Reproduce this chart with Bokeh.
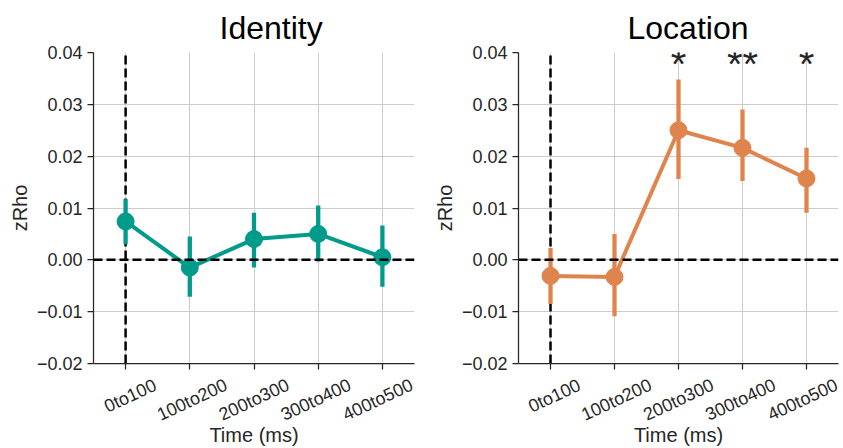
import math
from bokeh.plotting import figure
from bokeh.layouts import row, column
from bokeh.models import (Range1d, FactorRange, FixedTicker, CustomJSTickFormatter,
                          Span, Title)
from bokeh.core.properties import value
from bokeh.embed import file_html
from bokeh.resources import INLINE

categories = ["0to100", "100to200", "200to300", "300to400", "400to500"]
y_ticks = [-0.02, -0.01, 0.0, 0.01, 0.02, 0.03, 0.04]

identity_mean = [0.0074, -0.0015, 0.0040, 0.0050, 0.0005]
identity_low = [0.0030, -0.0071, -0.0015, -0.0003, -0.0052]
identity_high = [0.0117, 0.0045, 0.0091, 0.0105, 0.0066]

location_mean = [-0.0031, -0.0033, 0.0250, 0.0216, 0.0157]
location_low = [-0.0085, -0.0109, 0.0156, 0.0152, 0.0091]
location_high = [0.0023, 0.0050, 0.0348, 0.0290, 0.0216]

star_categories = ["200to300", "300to400", "400to500"]
star_labels = ["*", "**", "*"]
star_level = 0.0377

FONT = "Liberation Sans"
INK = "#262626"
FRAME_TOP = 52
FRAME_BOTTOM = 363
TOP_H = 374                 # main plot (x ticks below the frame)
BOT_H = 448 - TOP_H         # strip with rotated category names + x-axis title
STRIP_FRAME_H = 48
LABEL_PX = 18
LABEL_ANGLE = math.radians(25)

# approximate advance widths (em) of Liberation Sans, used to top-align rotated labels
EM_W = {"t": 0.278}


def label_centre(text):
    w = LABEL_PX * sum(EM_W.get(ch, 0.556) for ch in text)
    h = LABEL_PX * 1.17
    half = (w * math.sin(LABEL_ANGLE) + h * math.cos(LABEL_ANGLE)) / 2
    return STRIP_FRAME_H - 1 - half


def style_axis(ax):
    ax.axis_line_color = INK
    ax.axis_line_width = 1.25
    ax.major_tick_line_color = INK
    ax.major_tick_line_width = 1.25
    ax.major_tick_out = 6
    ax.major_tick_in = 0
    ax.minor_tick_out = 0
    ax.minor_tick_in = 0
    ax.major_label_text_font = FONT
    ax.major_label_text_font_size = "18px"
    ax.major_label_text_color = INK
    ax.axis_label_text_font = FONT
    ax.axis_label_text_font_size = "20px"
    ax.axis_label_text_font_style = "normal"
    ax.axis_label_text_color = INK


def panel(title, mean, low, high, color, width, border_left, border_right, title_offset,
          label_border_left, label_padding, stars=None):
    p = figure(width=width, height=TOP_H, x_range=FactorRange(factors=categories),
               y_range=Range1d(-0.02, 0.04), output_backend="svg", toolbar_location=None,
               min_border_left=border_left, min_border_right=border_right,
               min_border_top=FRAME_TOP, min_border_bottom=TOP_H - FRAME_BOTTOM)
    p.outline_line_color = None
    p.background_fill_color = "white"
    p.border_fill_color = "white"

    t = Title(text=title, align="left", offset=title_offset, text_font=FONT,
              text_font_size="32px", text_font_style="normal", text_color="black",
              standoff=14)
    p.add_layout(t, "above")

    for g in (p.xgrid, p.ygrid):
        g.grid_line_color = "#cccccc"
        g.grid_line_width = 1

    p.yaxis.ticker = FixedTicker(ticks=y_ticks)
    p.yaxis.formatter = CustomJSTickFormatter(
        code="return tick.toFixed(2).replace('-', '\u2212');")
    p.yaxis.axis_label = "zRho"
    style_axis(p.xaxis)
    style_axis(p.yaxis)
    p.yaxis.axis_label_standoff = 3
    # category names are drawn rotated & centred in the strip below
    p.xaxis.major_label_text_color = None
    p.xaxis.major_label_text_font_size = "10px"
    p.xaxis.major_label_standoff = 0

    # vertical dashed line at stimulus onset (drawn below series)
    p.line(x=[categories[0], categories[0]], y=[-0.02, 0.04], line_color="black",
           line_width=2.5, line_dash="9 4")

    p.segment(x0=categories, y0=low, x1=categories, y1=high, line_color=color,
              line_width=4.3)
    p.line(x=categories, y=mean, line_color=color, line_width=4)
    p.scatter(x=categories, y=mean, size=17, fill_color=color, line_color=color)

    p.add_layout(Span(location=0, dimension="width", line_color="black",
                      line_width=2.5, line_dash="9 4"))

    if stars is not None:
        cats, labels = stars
        p.text(x=cats, y=[star_level] * len(cats), text=labels, text_align="center",
               text_baseline="alphabetic", text_font=value(FONT), text_font_size="40px",
               text_color=INK)

    # label strip: same factors, slightly padded so the frame is a bit wider
    q = figure(width=width, height=BOT_H,
               x_range=FactorRange(factors=categories, range_padding=label_padding,
                                   range_padding_units="percent"),
               y_range=Range1d(0, STRIP_FRAME_H), output_backend="svg",
               toolbar_location=None,
               min_border_left=label_border_left, min_border_right=0,
               min_border_top=0, min_border_bottom=BOT_H - STRIP_FRAME_H)
    q.outline_line_color = None
    q.background_fill_color = "white"
    q.border_fill_color = "white"
    q.grid.visible = False
    q.yaxis.visible = False
    q.xaxis.axis_label = "Time (ms)"
    style_axis(q.xaxis)
    q.xaxis.axis_line_color = None
    q.xaxis.major_tick_line_color = None
    q.xaxis.major_tick_out = 0
    q.xaxis.major_label_text_color = None
    q.xaxis.major_label_text_font_size = "10px"
    q.xaxis.major_label_standoff = 0
    q.xaxis.axis_label_standoff = 3
    q.text(x=categories, y=[label_centre(c) for c in categories], text=categories,
           angle=LABEL_ANGLE, text_align="center", text_baseline="middle",
           text_font=value(FONT), text_font_size=f"{LABEL_PX}px", text_color=INK)
    return column(p, q, spacing=0)


left = panel("Identity", identity_mean, identity_low, identity_high, "#009b8b",
             420, 93, 6, 126, 87, 0.0374)
right = panel("Location", location_mean, location_low, location_high, "#e0844e",
              423, 98, 5, 109, 93, 0.0312, stars=(star_categories, star_labels))

layout = row(left, right, spacing=0)
open("out.html", "w").write(file_html(layout, INLINE))
